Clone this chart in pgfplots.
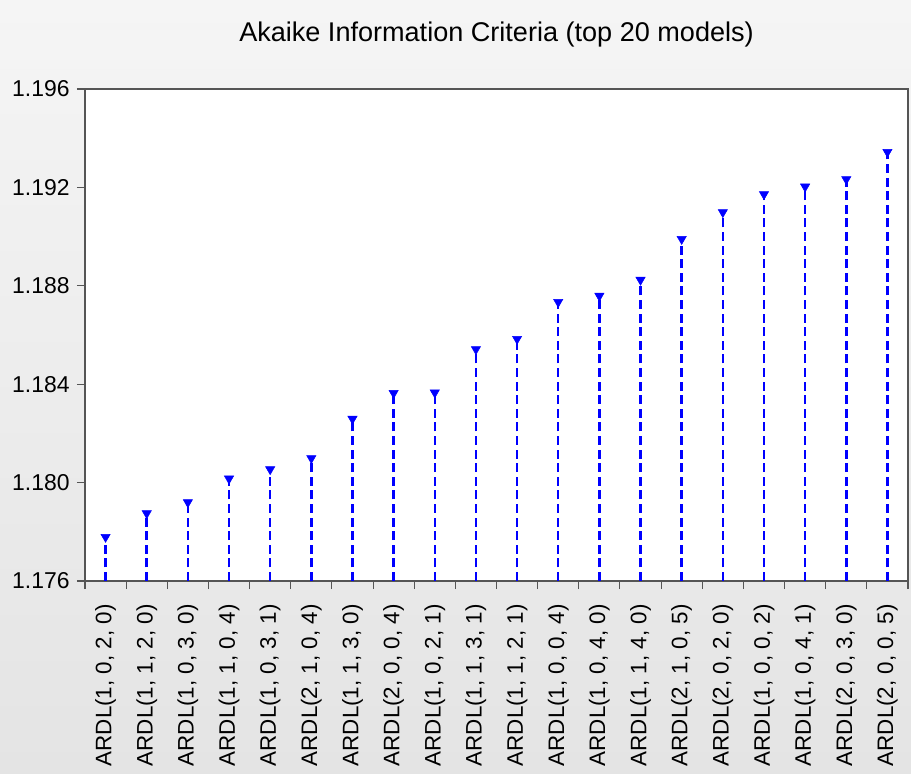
\documentclass[border=0pt]{standalone}
\usepackage{pgfplots}
\pgfplotsset{compat=1.18}
\usepackage{fontspec}
\setmainfont{Liberation Sans}
\definecolor{bgtop}{HTML}{F5F5F5}
\definecolor{bgbot}{HTML}{E4E4E4}
\definecolor{axgray}{HTML}{555555}
\begin{document}
\begin{tikzpicture}
\shade[top color=bgtop, bottom color=bgbot] (-63.75pt,-144.75pt) rectangle (619.5pt,435.75pt);
\useasboundingbox (-63.75pt,-144.75pt) rectangle (619.5pt,435.75pt);
\begin{axis}[
  at={(0pt,0pt)}, anchor=south west,
  scale only axis,
  width=617.25pt, height=369pt,
  xmin=0.5, xmax=20.5,
  ymin=1.176, ymax=1.196,
  axis background/.style={fill=white},
  axis line style={axgray, line width=0.8pt},
  xtick={1,...,20},
  xticklabels={{ARDL(1, 0, 2, 0)},{ARDL(1, 1, 2, 0)},{ARDL(1, 0, 3, 0)},{ARDL(1, 1, 0, 4)},{ARDL(1, 0, 3, 1)},{ARDL(2, 1, 0, 4)},{ARDL(1, 1, 3, 0)},{ARDL(2, 0, 0, 4)},{ARDL(1, 0, 2, 1)},{ARDL(1, 1, 3, 1)},{ARDL(1, 1, 2, 1)},{ARDL(1, 0, 0, 4)},{ARDL(1, 0, 4, 0)},{ARDL(1, 1, 4, 0)},{ARDL(2, 1, 0, 5)},{ARDL(2, 0, 2, 0)},{ARDL(1, 0, 0, 2)},{ARDL(1, 0, 4, 1)},{ARDL(2, 0, 3, 0)},{ARDL(2, 0, 0, 5)}},
  major x tick style={draw=none},
  minor xtick={0.5,1.5,...,20.5},
  minor x tick style={axgray, line width=0.8pt},
  minor tick length=6pt,
  x tick label style={rotate=90, anchor=east, font=\fontsize{16.8}{18}\selectfont, text=black},
  xticklabel shift=8pt,
  ytick={1.176,1.180,...,1.196},
  y tick style={axgray, line width=0.8pt},
  major tick length=6pt,
  tick align=outside,
  xtick pos=bottom, ytick pos=left,
  y tick label style={font=\fontsize{17.2}{18}\selectfont, text=black},
  yticklabel shift=2pt,
  yticklabel style={/pgf/number format/fixed, /pgf/number format/precision=3, /pgf/number format/fixed zerofill},
  /pgf/number format/assume math mode=true,
  scaled y ticks=false,
  title={Akaike Information Criteria (top 20 models)},
  title style={font=\fontsize{20.3}{22}\selectfont, at={(0.5,1)}, anchor=south, yshift=22pt},
  clip=false,
]
\addplot+[ycomb, blue, line width=1.9pt, dash pattern=on 6.8pt off 3.4pt,
  mark=triangle*, mark size=4pt, mark options={solid, fill=blue, draw=blue, rotate=180, line width=0.4pt}]
coordinates {
(1,1.17779) (2,1.17875) (3,1.17920) (4,1.18016) (5,1.18054)
(6,1.18099) (7,1.18259) (8,1.18364) (9,1.18366) (10,1.18542)
(11,1.18584) (12,1.18734) (13,1.18759) (14,1.18824) (15,1.18990)
(16,1.19099) (17,1.19172) (18,1.19203) (19,1.19233) (20,1.19344)
};
\end{axis}
\end{tikzpicture}
\end{document}
